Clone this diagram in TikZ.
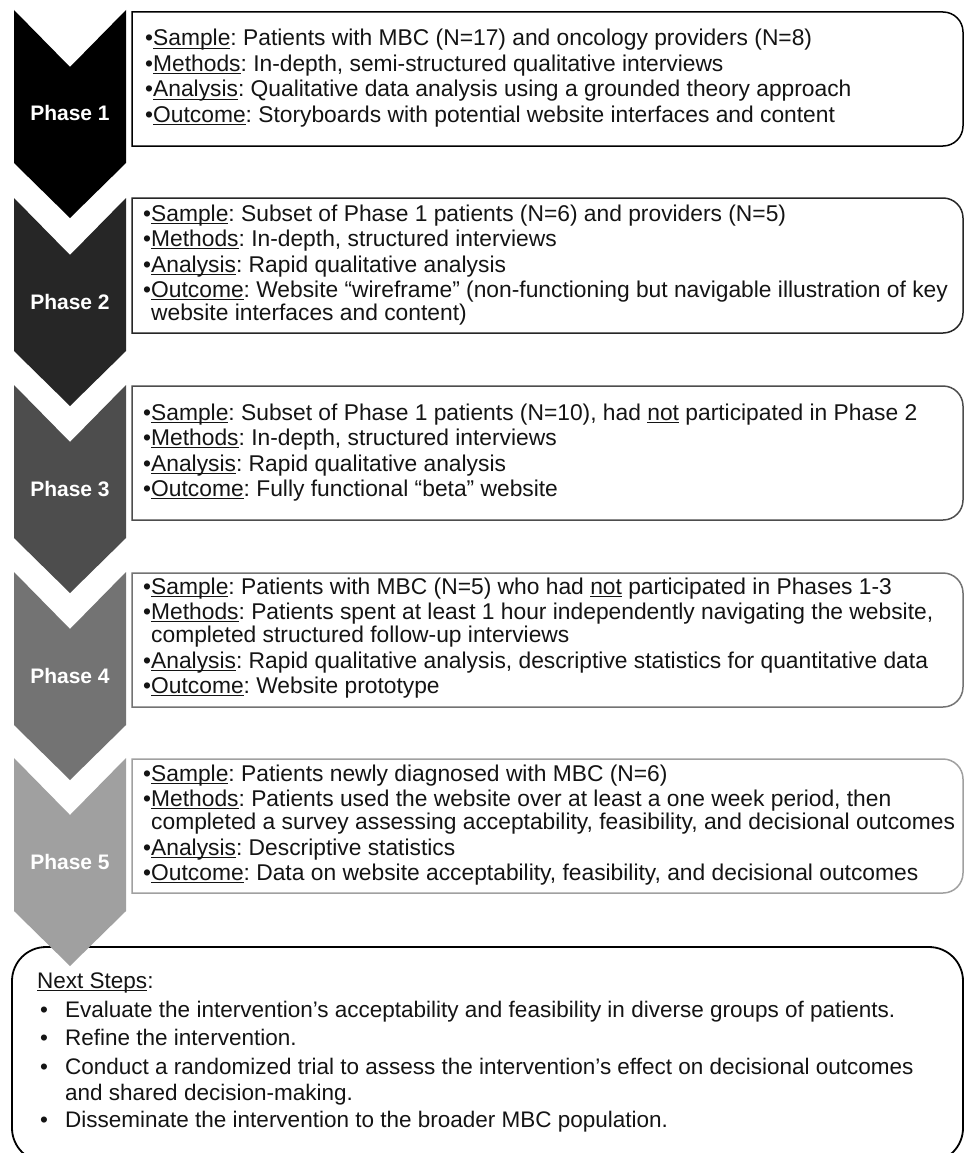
\documentclass[tikz,border=0pt]{standalone}
\usepackage{fontspec}
\setmainfont{Liberation Sans}
\definecolor{cA}{HTML}{000000}
\definecolor{cB}{HTML}{262626}
\definecolor{cC}{HTML}{4D4D4D}
\definecolor{cD}{HTML}{737373}
\definecolor{cE}{HTML}{A0A0A0}
\definecolor{txtc}{HTML}{141414}
\newsavebox\ulbox
\newcommand\uln[1]{\sbox\ulbox{#1}\rlap{\rule[-2.8pt]{\wd\ulbox}{1.2pt}}\usebox\ulbox}
\newcommand\chev[2]{%
  \fill[#2] (14,-#1) -- (70,-#1-57) -- (126,-#1) -- (126,-#1-153) -- (70,-#1-208) -- (14,-#1-153) -- cycle;}
\newcommand\pbox[3]{%
  \draw[#3, line width=1.5pt] (132,-#1) -- (943,-#1) arc[start angle=90,end angle=0,radius=20]
    -- (963,-#2+20) arc[start angle=0,end angle=-90,radius=20] -- (132,-#2) -- cycle;}
\newcommand\cont{\phantom{•}}
\begin{document}
\frenchspacing
\begin{tikzpicture}[x=1pt,y=1pt,
  txt/.style={anchor=base west, inner sep=0pt, text=txtc, font=\fontsize{22.8}{26}\selectfont},
  ntxt/.style={anchor=base west, inner sep=0pt, text=txtc, font=\fontsize{22.5}{26}\selectfont},
  plabel/.style={anchor=base, inner sep=0pt, text=white, font=\fontsize{21}{24}\selectfont\bfseries}]
\useasboundingbox (0,0) rectangle (964,-1153);
\fill[white] (0,0) rectangle (964,-1153);
% next steps box
\draw[black, line width=1.8pt, rounded corners=34pt] (12,-947) rectangle (963,-1162);
% chevrons
\chev{10}{cA}
\chev{198}{cB}
\chev{385}{cC}
\chev{572}{cD}
\chev{758}{cE}
\node[plabel] (l1) at (70,-121) {Phase 1};
\node[plabel] (l2) at (70,-309) {Phase 2};
\node[plabel] (l3) at (70,-496) {Phase 3};
\node[plabel] (l4) at (70,-683) {Phase 4};
\node[plabel] (l5) at (70,-869) {Phase 5};
% boxes
\pbox{12}{146}{cA}
\pbox{198}{333}{cB}
\pbox{386}{520}{cC}
\pbox{573}{707}{cD}
\pbox{759}{893}{cE}
% phase 1 text
\node[txt] (a1) at (145,-46) {•\uln{Sample}: Patients with MBC (N=17) and oncology providers (N=8)};
\node[txt] (a2) at (145,-71.5) {•\uln{Methods}: In-depth, semi-structured qualitative interviews};
\node[txt] (a3) at (145,-97) {•\uln{Analysis}: Qualitative data analysis using a grounded theory approach};
\node[txt] (a4) at (145,-122.5) {•\uln{Outcome}: Storyboards with potential website interfaces and content};
% phase 2 text
\node[txt] (b1) at (143,-221) {•\uln{Sample}: Subset of Phase 1 patients (N=6) and providers (N=5)};
\node[txt] (b2) at (143,-246.5) {•\uln{Methods}: In-depth, structured interviews};
\node[txt] (b3) at (143,-272) {•\uln{Analysis}: Rapid qualitative analysis};
\node[txt] (b4) at (143,-297.5) {•\uln{Outcome}: Website “wireframe” (non-functioning but navigable illustration of key};
\node[txt] (b5) at (143,-320.5) {\cont website interfaces and content)};
% phase 3 text
\node[txt] (c1) at (143,-420) {•\uln{Sample}: Subset of Phase 1 patients (N=10), had \uln{not} participated in Phase 2};
\node[txt] (c2) at (143,-445.5) {•\uln{Methods}: In-depth, structured interviews};
\node[txt] (c3) at (143,-471) {•\uln{Analysis}: Rapid qualitative analysis};
\node[txt] (c4) at (143,-496.5) {•\uln{Outcome}: Fully functional “beta” website};
% phase 4 text
\node[txt] (d1) at (143,-594) {•\uln{Sample}: Patients with MBC (N=5) who had \uln{not} participated in Phases 1-3};
\node[txt] (d2) at (143,-619.5) {•\uln{Methods}: Patients spent at least 1 hour independently navigating the website,};
\node[txt] (d3) at (143,-642.5) {\cont completed structured follow-up interviews};
\node[txt] (d4) at (143,-668) {•\uln{Analysis}: Rapid qualitative analysis, descriptive statistics for quantitative data};
\node[txt] (d5) at (143,-693.5) {•\uln{Outcome}: Website prototype};
% phase 5 text
\node[txt] (e1) at (143,-781) {•\uln{Sample}: Patients newly diagnosed with MBC (N=6)};
\node[txt] (e2) at (143,-806.5) {•\uln{Methods}: Patients used the website over at least a one week period, then};
\node[txt] (e3) at (143,-829.5) {\cont completed a survey assessing acceptability, feasibility, and decisional outcomes};
\node[txt] (e4) at (143,-855) {•\uln{Analysis}: Descriptive statistics};
\node[txt] (e5) at (143,-880.5) {•\uln{Outcome}: Data on website acceptability, feasibility, and decisional outcomes};
% next steps text
\node[ntxt] (n0) at (37,-988) {\uln{Next Steps}:};
\node[ntxt] (nb1) at (40,-1017) {•};
\node[ntxt] (n1) at (65,-1017) {Evaluate the intervention’s acceptability and feasibility in diverse groups of patients.};
\node[ntxt] (nb2) at (40,-1045) {•};
\node[ntxt] (n2) at (65,-1045) {Refine the intervention.};
\node[ntxt] (nb3) at (40,-1074) {•};
\node[ntxt] (n3) at (65,-1074) {Conduct a randomized trial to assess the intervention’s effect on decisional outcomes};
\node[ntxt] (n4) at (65,-1100) {and shared decision-making.};
\node[ntxt] (nb5) at (40,-1127) {•};
\node[ntxt] (n5) at (65,-1127) {Disseminate the intervention to the broader MBC population.};
\end{tikzpicture}
\end{document}
